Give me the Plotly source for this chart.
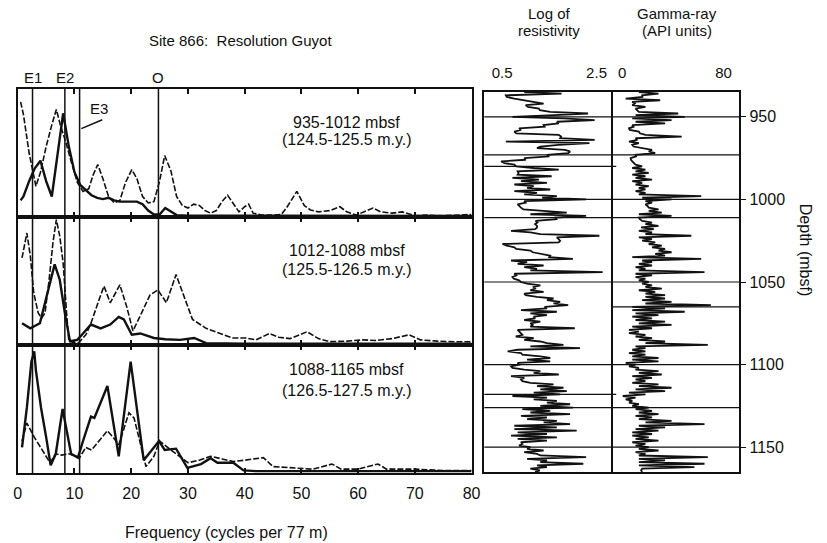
import plotly.graph_objects as go

# ---------------- spectra (normalised power, 0-100 per panel) ----------------
P1_DASH_F = [0.5, 1, 2, 3.2, 4, 5, 6, 6.8, 7.5, 8.5, 9.5, 10.5, 11.5, 12.5, 13.3, 14.1, 15, 16, 17, 18, 19, 20.1, 21, 22, 23, 24, 25, 25.9, 27, 28, 29, 30, 31, 32, 33, 34, 35, 36, 37, 38, 39, 40, 40.7, 41.5, 43, 45, 46.5, 47.5, 49.2, 50.5, 51.6, 53, 55, 56.8, 58, 59.7, 61, 62.6, 64, 66, 67.8, 70, 72, 75, 78, 80]
P1_DASH_Y = [90, 80, 50, 24, 35, 55, 72, 84, 72, 58, 42, 27, 20, 22, 33, 41, 30, 16, 11, 13, 27, 37, 30, 16, 11, 12, 28, 48, 36, 16, 9, 7, 10, 9, 5, 3, 5, 12, 17, 10, 4, 8, 10, 3, 1.5, 1.5, 2, 8, 20, 9, 5.5, 4, 5, 8, 4, 1.5, 4, 7, 4, 3, 4, 1, 1.5, 1, 1.5, 2]
P1_SOLID_F = [0.5, 1, 2, 3, 4, 5, 6, 7, 8, 9, 10, 11, 12, 13, 14, 15, 16, 17, 18, 19, 20, 21, 22, 23, 24, 25, 26, 27, 28, 30, 35, 40, 50, 60, 70, 80]
P1_SOLID_Y = [13, 16, 28, 38, 44, 28, 16, 50, 81, 55, 35, 25, 21, 17, 15, 14, 15, 13, 12, 12, 12, 12, 10, 5, 2, 2, 7, 4, 1.5, 1, 1, 0.8, 0.8, 0.8, 0.8, 0.8]

P2_DASH_F = [0.75, 1.6, 2.2, 2.8, 3.6, 4.2, 4.8, 5.5, 6.2, 6.8, 7.4, 8.0, 8.6, 9.0, 9.8, 10.8, 12, 12.9, 14.3, 15.2, 16.3, 18, 19.2, 20.3, 21.5, 23.3, 24.7, 26.2, 27.9, 29.1, 30.8, 33.2, 35.5, 37.8, 40.1, 42, 44.4, 46, 48, 51, 53, 55, 58, 60.8, 63, 66, 69, 71, 74, 77, 80]
P2_DASH_Y = [68, 87.5, 70, 41, 25, 21, 25, 50, 80, 98, 85, 64, 25, 3, 2, 2, 8, 17, 35, 46, 33, 47, 30, 11, 22, 39, 43, 33, 55, 41, 20, 13, 9.5, 5.5, 5.5, 4, 9, 6, 5, 10.4, 5, 2.6, 3, 4, 3.5, 5, 8, 4, 3, 2.5, 2.6]
P2_SOLID_F = [0.75, 2.2, 3.9, 5.1, 6.5, 7.4, 8.3, 9.2, 10.5, 11.5, 12.9, 14.6, 16.3, 17.8, 18.7, 20.1, 21.6, 24, 26, 28.6, 31.1, 33.2, 36, 40, 50, 60, 70, 80]
P2_SOLID_Y = [17, 13, 17, 38, 63, 51, 25, 3, 4, 9, 16, 13, 16, 22, 20, 8, 9, 5.5, 4.5, 4, 5.5, 1.5, 1.2, 1, 1, 1, 1, 1]

P3_SOLID_F = [0.75, 1.6, 2.4, 2.9, 3.2, 4.1, 5.0, 5.8, 6.7, 7.9, 9.4, 10.6, 11.5, 12.9, 13.5, 15.8, 17.8, 19.9, 22.2, 24.9, 25.9, 27.9, 29.9, 32.3, 34.0, 35.2, 38, 39.8, 42, 50, 60, 70, 80]
P3_SOLID_Y = [20, 51, 87, 95, 80, 51, 28, 6, 15, 50, 15, 12, 25, 44, 43, 68, 13, 87, 10, 25, 18, 19, 4, 7, 11.5, 8, 8, 2, 1.5, 1.5, 1.5, 1.5, 1.5]
P3_DASH_F = [0.75, 1.6, 2.9, 4.4, 5.7, 6.7, 7.7, 9.0, 10.9, 12.0, 13.0, 14.5, 15.8, 16.8, 17.8, 19.6, 20.5, 21.5, 22.6, 24.0, 25.0, 27, 30, 32, 34, 36, 38, 40, 42, 43.3, 45, 48, 52, 55.4, 57, 60, 63.5, 65, 70, 75, 80]
P3_DASH_Y = [25, 39, 28, 17, 8, 15, 14, 15, 12, 20, 18, 26, 33, 28, 22, 47, 43, 25, 5, 13, 25, 18, 8, 10, 13, 11, 9, 10, 11, 12, 5, 4, 3, 7, 3, 3, 7, 3, 3, 2, 2]

PANEL_LABELS = [("935-1012 mbsf", "(124.5-125.5 m.y.)"),
                ("1012-1088 mbsf", "(125.5-126.5 m.y.)"),
                ("1088-1165 mbsf", "(126.5-127.5 m.y.)")]
CYCLE_NAMES = ["E1", "E2", "E3", "O"]
CYCLE_FREQ = [2.6, 8.3, 10.9, 24.8]
FREQ_TICKS = [0, 10, 20, 30, 40, 50, 60, 70, 80]

# ---------------- logs, 1 m samples from 935 m ----------------
DEPTH_TOP = 935
RES = [
 0.97, 1.76, 0.58, 0.60, 0.76, 0.97, 1.10, 1.38, 1.00, 1.05,
 1.28, 1.30, 1.52, 2.32, 1.60, 0.72, 1.80, 2.46, 1.66, 1.70,
 1.38, 1.40, 0.86, 0.90, 0.76, 0.80, 1.70, 1.75, 1.73, 2.46,
 0.58, 2.35, 1.70, 1.31, 1.24, 1.83, 1.94, 1.90, 1.45, 1.50,
 0.97, 1.00, 0.48, 0.55, 0.76, 0.80, 1.17, 1.70, 0.83, 0.85,
 0.83, 1.55, 0.72, 1.28, 0.90, 1.45, 0.76, 1.17, 1.03, 1.52,
 0.76, 1.24, 0.97, 1.66, 1.35, 2.28, 0.97, 1.00, 0.83, 0.86,
 0.90, 0.95, 1.38, 1.87, 1.10, 2.28, 1.63, 1.65, 1.21, 1.25,
 1.20, 1.24, 1.24, 1.20, 0.69, 1.10, 1.31, 2.56, 1.66, 1.70,
 1.73, 1.70, 0.51, 0.60, 0.76, 0.80, 1.10, 1.15, 1.38, 1.52,
 1.50, 2.00, 0.69, 1.03, 0.83, 1.38, 0.97, 1.24, 1.10, 2.63,
 0.76, 0.80, 0.72, 0.75, 0.86, 0.90, 1.03, 1.31, 1.17, 1.20,
 1.10, 1.38, 0.97, 1.00, 1.24, 1.59, 1.45, 1.73, 1.59, 1.90,
 1.40, 1.45, 0.90, 1.66, 1.10, 1.45, 1.17, 1.20, 0.97, 1.31,
 1.10, 1.15, 1.10, 2.04, 0.83, 0.86, 0.90, 0.93, 0.79, 1.17,
 0.97, 1.31, 1.45, 1.80, 1.10, 2.15, 0.83, 0.62, 0.90, 0.93,
 1.31, 1.52, 1.03, 1.52, 0.83, 0.86, 0.69, 0.72, 0.97, 1.31,
 1.17, 1.70, 0.69, 0.97, 0.90, 0.93, 1.10, 1.59, 1.24, 1.80,
 1.31, 1.87, 1.17, 1.73, 0.72, 1.45, 1.17, 1.66, 1.45, 1.94,
 1.31, 2.00, 0.93, 1.52, 1.10, 1.94, 0.90, 1.45, 1.03, 1.66,
 1.38, 1.94, 0.76, 1.66, 0.76, 2.08, 0.83, 1.45, 0.69, 1.66,
 0.83, 1.45, 0.90, 0.93, 0.86, 1.10, 1.03, 1.38, 0.97, 1.24,
 1.31, 2.28, 1.03, 1.45, 1.31, 2.22, 1.24, 1.45, 1.10, 1.30,
 1.20]
GAMMA = [
 13.2, 28.7, 15.8, 16.0, 2.8, 30.0, 8.0, 10.0, 8.0, 18.4,
 10.6, 12.0, 13.2, 44.3, 10.6, 49.4, 8.0, 39.0, 10.6, 33.9,
 8.0, 9.0, 5.4, 6.0, 13.2, 14.0, 18.4, 47.0, 10.6, 12.0,
 5.4, 13.2, 8.0, 9.0, 15.8, 23.6, 21.0, 26.1, 10.6, 11.0,
 6.7, 7.0, 8.0, 9.0, 10.6, 15.8, 8.0, 18.4, 10.6, 21.0,
 8.0, 18.4, 10.6, 23.6, 8.0, 15.8, 10.6, 21.0, 13.2, 18.4,
 10.6, 18.4, 13.2, 62.4, 15.8, 39.0, 18.4, 23.6, 18.4, 20.0,
 21.0, 28.7, 21.0, 31.3, 13.2, 39.0, 13.2, 14.0, 15.8, 23.6,
 18.4, 28.7, 15.0, 25.0, 13.2, 23.6, 18.4, 54.6, 13.2, 23.6,
 15.8, 26.1, 21.0, 31.3, 23.6, 33.9, 28.7, 39.0, 26.1, 33.9,
 8.0, 62.4, 15.8, 23.6, 13.2, 23.6, 10.6, 18.4, 13.2, 65.0,
 10.6, 23.6, 10.6, 18.4, 13.2, 21.0, 15.8, 23.6, 18.4, 31.3,
 13.2, 26.1, 18.4, 33.9, 18.4, 33.9, 15.8, 39.0, 18.4, 70.0,
 8.0, 33.9, 8.0, 49.4, 10.6, 28.7, 8.0, 23.6, 10.6, 33.9,
 13.2, 39.0, 8.0, 23.6, 5.4, 13.2, 5.4, 18.4, 10.6, 23.6,
 13.2, 33.9, 18.4, 67.6, 10.6, 18.4, 8.0, 18.4, 5.4, 18.4,
 8.0, 28.7, 8.0, 28.7, 2.8, 10.6, 5.4, 13.2, 10.6, 28.7,
 13.2, 31.3, 8.0, 23.6, 10.6, 18.4, 8.0, 28.7, 13.2, 39.0,
 10.6, 33.9, 5.4, 18.4, 0.5, 10.6, 2.8, 8.0, 5.4, 13.2,
 8.0, 21.0, 10.6, 23.6, 13.2, 28.7, 10.6, 23.6, 13.2, 39.0,
 18.4, 65.0, 13.2, 33.9, 10.6, 28.7, 8.0, 23.6, 8.0, 21.0,
 10.6, 28.7, 8.0, 18.4, 10.6, 21.0, 13.2, 28.7, 10.6, 18.4,
 13.2, 67.6, 13.2, 33.9, 13.2, 65.0, 13.2, 57.0, 15.8, 15.0,
 15.8]
DEPTH_TICKS = [950, 1000, 1050, 1100, 1150]
HLINES_BOTH = [950, 973, 1000, 1011, 1050, 1100, 1126, 1150]
HLINES_RES = [980, 1118]
HLINES_GAMMA = [1065]

# ---------------- layout geometry (paper fractions) ----------------
W, H = 827, 543
def px_x(p): return p / W
def px_y(p): return 1 - p / H

LX = [px_x(14), px_x(475)]
PANEL_PX = [(89, 217), (217, 345), (345, 473)]
RX = [px_x(488), px_x(617)]
GX = [px_x(617), px_x(747)]
LOGY = [px_y(472), px_y(92)]

FONT = "Liberation Sans, Arial, sans-serif"
BLACK = "#111111"

fig = go.Figure()

spectra = [(P1_SOLID_F, P1_SOLID_Y, P1_DASH_F, P1_DASH_Y),
           (P2_SOLID_F, P2_SOLID_Y, P2_DASH_F, P2_DASH_Y),
           (P3_SOLID_F, P3_SOLID_Y, P3_DASH_F, P3_DASH_Y)]

for i, (sf, sy, df, dy) in enumerate(spectra):
    ax = "" if i == 0 else str(i + 1)
    fig.add_trace(go.Scatter(x=df, y=dy, mode="lines", xaxis="x" + ax, yaxis="y" + ax,
                             line=dict(color=BLACK, width=1.6, dash="6px,2px"), showlegend=False))
    fig.add_trace(go.Scatter(x=sf, y=sy, mode="lines", xaxis="x" + ax, yaxis="y" + ax,
                             line=dict(color=BLACK, width=2.4), showlegend=False))

depths = [DEPTH_TOP + i for i in range(len(RES))]
gdepths = [DEPTH_TOP + i for i in range(len(GAMMA))]
fig.add_trace(go.Scatter(x=RES, y=depths, mode="lines", xaxis="x4", yaxis="y4",
                         line=dict(color=BLACK, width=1.8), showlegend=False))
fig.add_trace(go.Scatter(x=GAMMA, y=gdepths, mode="lines", xaxis="x5", yaxis="y5",
                         line=dict(color=BLACK, width=1.8), showlegend=False))

axis_common = dict(showgrid=False, zeroline=False, showline=True, linecolor=BLACK,
                   linewidth=2, mirror=True)
layout = dict(width=W, height=H, margin=dict(l=0, r=0, t=0, b=0),
              paper_bgcolor="white", plot_bgcolor="white",
              font=dict(family=FONT, color=BLACK, size=15))

for i, (top, bot) in enumerate(PANEL_PX):
    ax = "" if i == 0 else str(i + 1)
    layout["xaxis" + ax] = dict(axis_common, domain=LX, range=[0, 80], anchor="y" + ax,
                                tickvals=FREQ_TICKS, ticks="inside", ticklen=5, tickwidth=1.5,
                                tickcolor=BLACK, mirror="allticks",
                                showticklabels=(i == 2), ticklabelstandoff=5,
                                tickfont=dict(size=16))
    layout["yaxis" + ax] = dict(axis_common, domain=[px_y(bot), px_y(top)], range=[0, 100],
                                anchor="x" + ax, showticklabels=False, ticks="")

layout["xaxis4"] = dict(axis_common, domain=RX, range=[0.125, 2.8125], anchor="y4", side="top",
                        tickvals=[0.5, 2.5], ticktext=["0.5", "2.5"], ticks="outside", ticklen=6,
                        tickcolor="rgba(0,0,0,0)", tickfont=dict(size=15))
layout["yaxis4"] = dict(axis_common, domain=LOGY, range=[1165, 935], anchor="x4",
                        showticklabels=False, ticks="")
layout["xaxis5"] = dict(axis_common, domain=GX, range=[-8.54, 92.43], anchor="y5", side="top",
                        tickvals=[0, 80], ticks="outside", ticklen=6,
                        tickcolor="rgba(0,0,0,0)", tickfont=dict(size=15))
layout["yaxis5"] = dict(axis_common, domain=LOGY, range=[1165, 935], anchor="x5", side="right",
                        mirror=False, tickvals=DEPTH_TICKS, ticks="outside", ticklen=5,
                        tickcolor=BLACK, tickfont=dict(size=16))
fig.update_layout(**layout)

shapes = []
for f in CYCLE_FREQ:
    shapes.append(dict(type="line", xref="x3", yref="paper", x0=f, x1=f,
                       y0=px_y(473), y1=px_y(89), line=dict(color=BLACK, width=1.5)))
shapes.append(dict(type="line", xref="x", yref="y", x0=14.9, y0=76, x1=11.2, y1=69,
                   line=dict(color=BLACK, width=1.5)))
for d in HLINES_BOTH:
    shapes.append(dict(type="line", xref="paper", yref="y4", x0=RX[0], x1=GX[1], y0=d, y1=d,
                       line=dict(color=BLACK, width=1.2)))
for d in HLINES_RES:
    shapes.append(dict(type="line", xref="paper", yref="y4", x0=RX[0], x1=px_x(622), y0=d, y1=d,
                       line=dict(color=BLACK, width=1.2)))
for d in HLINES_GAMMA:
    shapes.append(dict(type="line", xref="paper", yref="y4", x0=GX[0], x1=GX[1], y0=d, y1=d,
                       line=dict(color=BLACK, width=1.2)))
fig.update_layout(shapes=shapes)

C = dict(xanchor="center", yanchor="middle", showarrow=False)
ann = []
for name, f in zip(CYCLE_NAMES, CYCLE_FREQ):
    if name == "E3":
        ann.append(dict(C, x=14.3, y=85, xref="x", yref="y", text=name, font=dict(size=15)))
    else:
        ann.append(dict(C, x=f, y=px_y(78), xref="x", yref="paper", text=name, font=dict(size=15)))
LABEL_Y = [(74.2, 60.2), (74.2, 58.6), (80.5, 64.8)]
for i, ((l1, l2), (y1, y2)) in enumerate(zip(PANEL_LABELS, LABEL_Y)):
    ax = "" if i == 0 else str(i + 1)
    ann.append(dict(C, x=58, y=y1, xref="x" + ax, yref="y" + ax, text=l1, font=dict(size=16)))
    ann.append(dict(C, x=58, y=y2, xref="x" + ax, yref="y" + ax, text=l2, font=dict(size=16)))
ann += [
    dict(C, x=px_x(240), y=px_y(40), xref="paper", yref="paper", text="Site 866:  Resolution Guyot",
         font=dict(size=15)),
    dict(C, x=px_x(226), y=px_y(532), xref="paper", yref="paper", text="Frequency (cycles per 77 m)",
         font=dict(size=16)),
    dict(C, x=px_x(554), y=px_y(13), xref="paper", yref="paper", text="Log of", font=dict(size=15)),
    dict(C, x=px_x(554), y=px_y(31), xref="paper", yref="paper", text="resistivity", font=dict(size=15)),
    dict(C, x=px_x(684), y=px_y(13), xref="paper", yref="paper", text="Gamma-ray", font=dict(size=15)),
    dict(C, x=px_x(684), y=px_y(31), xref="paper", yref="paper", text="(API units)", font=dict(size=15)),
    dict(C, x=px_x(814), y=px_y(250), xref="paper", yref="paper", text="Depth (mbsf)",
         textangle=90, font=dict(size=16)),
]
fig.update_layout(annotations=ann)

fig.write_html("out.html")
